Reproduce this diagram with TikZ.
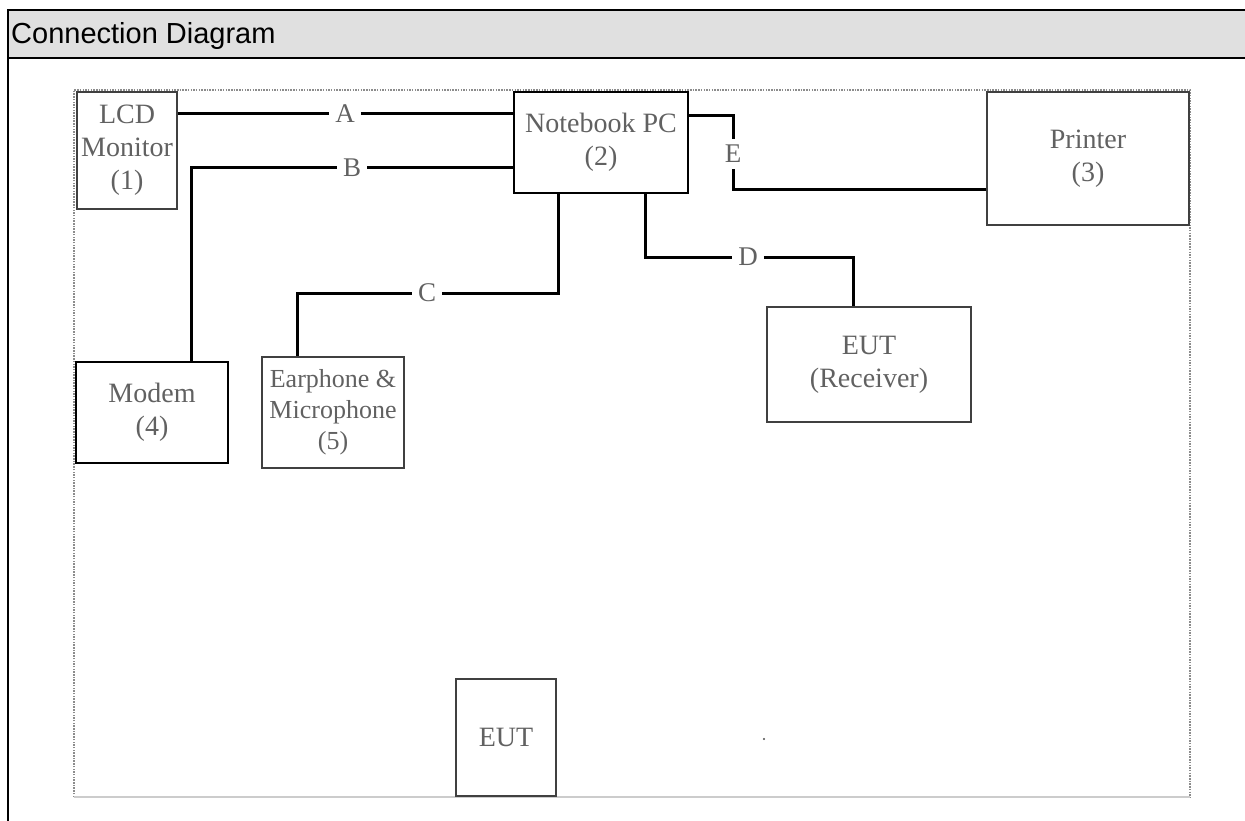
\documentclass[tikz,border=0pt]{standalone}
\usepackage{fontspec}
\setmainfont{Liberation Serif}
\newfontfamily\headfont{Liberation Sans}
\usetikzlibrary{positioning}

\begin{document}
\begin{tikzpicture}[x=1pt,y=-1pt,
    unit/.style={draw=black!75,line width=1.6pt,align=center,text=black!62,
        font=\fontsize{28}{33}\selectfont,inner sep=0pt},
    cable/.style={line width=3pt,black},
    lbl/.style={text=black!62,font=\fontsize{27}{30}\selectfont,inner xsep=6pt,inner ysep=4pt}]
    \useasboundingbox (0,0) rectangle (1245,821);

    % table head
    \fill[black!12] (8,10) rectangle (1245,58);
    \draw[line width=2.4pt] (1245,10) -- (8,10) -- (8,821);
    \draw[line width=2.4pt] (8,58) -- (1245,58);
    \node[anchor=west,font=\headfont\fontsize{29}{32}\selectfont,inner sep=0pt] (head) at (11,36) {Connection Diagram};

    % frame of the drawing
    \draw[black!45,line width=1.5pt,dash pattern=on 1.5pt off 1.2pt] (74,797) -- (74,90) -- (1190,90) -- (1190,797);
    \draw[black!20,line width=1.5pt] (74,797) -- (1190,797);

    \node[unit,minimum width=100,minimum height=117] (lcd) at (127,150.5) {LCD\\Monitor\\(1)};
    \node[unit,minimum width=174,minimum height=101,draw=black] (nb) at (601,142.5) {Notebook PC\\(2)};
    \node[unit,minimum width=202,minimum height=133] (prn) at (1088,158.5) {Printer\\(3)};
    \node[unit,minimum width=152,minimum height=101,draw=black] (modem) at (152,412.5) {Modem\\(4)};
    \node[unit,minimum width=142,minimum height=111,font=\fontsize{26}{31}\selectfont] (ear) at (333,412.5) {Earphone \&\\Microphone\\(5)};
    \node[unit,minimum width=204,minimum height=115] (rcv) at (869,364.5) {EUT\\(Receiver)};
    \node[unit,minimum width=100,minimum height=117] (eut) at (506,737.5) {EUT};
    \fill[black!70] (764,739) circle (1.2pt);

    % cable labels
    \node[lbl] (labA) at (345,114) {A};
    \node[lbl] (labB) at (352,168) {B};
    \node[lbl] (labC) at (427,293) {C};
    \node[lbl] (labD) at (748,257) {D};
    \node[lbl,inner ysep=6pt] (labE) at (733,154) {E};

    \coordinate (bturn) at (191,168);
    \coordinate (cdrop) at (558,293);
    \coordinate (cturn) at (297,293);
    \coordinate (ddrop) at (645,257);
    \coordinate (dturn) at (853,257);
    \coordinate (eturn) at (733,116);

    \draw[cable] (lcd.east |- labA) -- (labA.west);
    \draw[cable] (labA.east) -- (nb.west |- labA);
    \draw[cable] (nb.west |- labB) -- (labB.east);
    \draw[cable] (labB.west) -- (bturn) -- (bturn |- modem.north);
    \draw[cable] (cdrop |- nb.south) -- (cdrop) -- (labC.east);
    \draw[cable] (labC.west) -- (cturn) -- (cturn |- ear.north);
    \draw[cable] (ddrop |- nb.south) -- (ddrop) -- (labD.west);
    \draw[cable] (labD.east) -- (dturn) -- (dturn |- rcv.north);
    \draw[cable] (nb.east |- eturn) -- (eturn) -- (labE.north);
    \draw[cable] (labE.south) -- (labE.south |- 0,190) -- (prn.west |- 0,190);
\end{tikzpicture}
\end{document}
